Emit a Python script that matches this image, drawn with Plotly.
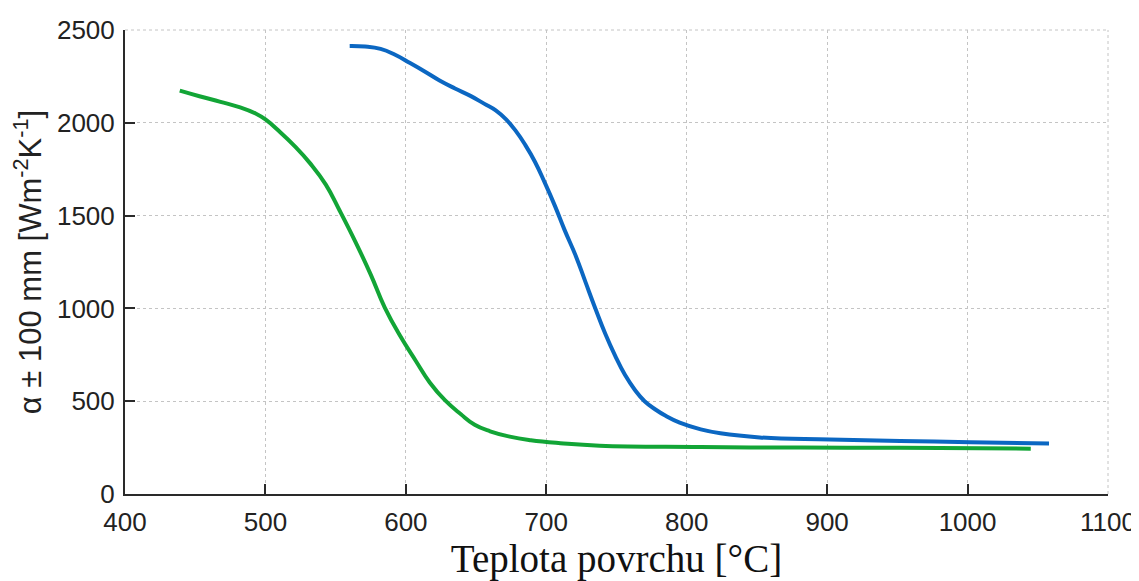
import plotly.graph_objects as go

# Surface temperature [°C] and heat transfer coefficient [W m^-2 K^-1]
green_x = [439, 453, 468, 482, 493, 500, 510, 521, 532, 543, 553, 564, 575, 585, 596, 607,
           617, 628, 639, 649, 660, 674, 689, 710, 738, 810, 881, 952, 1045]
green_y = [2173, 2143, 2113, 2083, 2050, 2018, 1953, 1873, 1780, 1667, 1525, 1360, 1182, 1004, 851, 718,
           601, 504, 431, 373, 338, 309, 290, 274, 260, 253, 250, 249, 244]

blue_x = [560, 571, 582, 592, 603, 614, 624, 635, 646, 656, 664, 671, 678, 685, 692, 699, 706, 713,
          721, 728, 735, 742, 749, 756, 763, 770, 778, 785, 795, 810, 824, 852, 902, 952, 1002, 1058]
blue_y = [2414, 2411, 2398, 2368, 2322, 2274, 2228, 2185, 2145, 2102, 2067, 2021, 1959, 1881, 1789, 1676, 1555, 1423,
          1283, 1140, 998, 863, 745, 642, 562, 500, 454, 421, 384, 348, 327, 305, 294, 286, 279, 272]

x_ticks = [400, 500, 600, 700, 800, 900, 1000, 1100]
y_ticks = [0, 500, 1000, 1500, 2000, 2500]

fig = go.Figure()
fig.add_trace(go.Scatter(x=green_x, y=green_y, mode="lines",
                         line=dict(color="#12a536", width=4, shape="spline", smoothing=1.3, simplify=False),
                         showlegend=False))
fig.add_trace(go.Scatter(x=blue_x, y=blue_y, mode="lines",
                         line=dict(color="#0b67c2", width=4, shape="spline", smoothing=1.3, simplify=False),
                         showlegend=False))

axis_common = dict(
    showline=True, linecolor="#2a2a2a", linewidth=2,
    ticks="inside", ticklen=10, tickwidth=2, tickcolor="#2a2a2a",
    showgrid=True, gridcolor="#c4c4c4", gridwidth=1, griddash="dot",
    zeroline=False,
    tickfont=dict(family="Liberation Sans, Arial, sans-serif", size=26, color="#222222"),
)

fig.update_xaxes(range=[400, 1100], tickvals=x_ticks, ticktext=[str(v) for v in x_ticks],
                 ticklabelstandoff=4,
                 title=dict(text="Teplota povrchu [°C]",
                            font=dict(family="Liberation Serif, Times New Roman, serif", size=39, color="#111111"),
                            standoff=14),
                 **axis_common)
fig.update_yaxes(range=[0, 2500], tickvals=y_ticks, ticktext=[str(v) for v in y_ticks],
                 ticklabelstandoff=3,
                 title=dict(text="α ± 100 mm [Wm<sup>-2</sup>K<sup>-1</sup>]",
                            font=dict(family="Liberation Sans, Arial, sans-serif", size=31, color="#222222"),
                            standoff=9),
                 **axis_common)

# dotted frame on the top and right edges of the plot area
fig.add_shape(type="line", xref="x domain", yref="y domain", x0=0, x1=1, y0=1, y1=1,
              line=dict(color="#c4c4c4", width=1, dash="dot"), layer="below")
fig.add_shape(type="line", xref="x domain", yref="y domain", x0=1, x1=1, y0=0, y1=1,
              line=dict(color="#c4c4c4", width=1, dash="dot"), layer="below")

fig.update_layout(
    width=1131, height=573,
    margin=dict(l=117, r=31, t=22, b=87, autoexpand=False),
    paper_bgcolor="white", plot_bgcolor="white",
)

fig.write_html("out.html")
